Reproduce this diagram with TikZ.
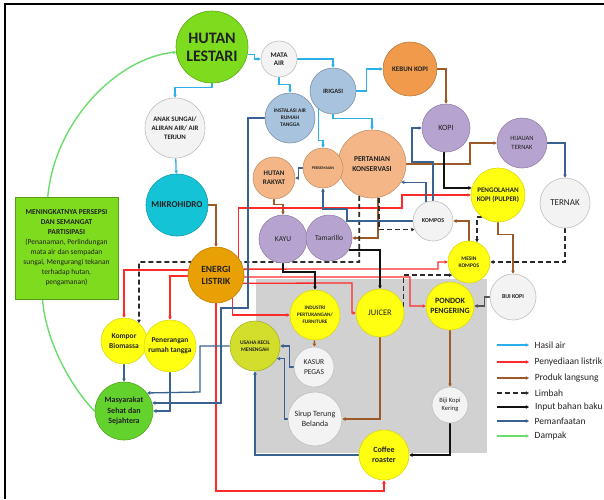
\documentclass[tikz,border=0pt]{standalone}
\usepackage{fontspec}
\setmainfont{Carlito}
\usetikzlibrary{arrows.meta}
\definecolor{cHasil}{HTML}{2DB0EA}
\definecolor{cListrik}{HTML}{FF2B2B}
\definecolor{cProduk}{HTML}{9C5A28}
\definecolor{cLimbah}{HTML}{2A2A2A}
\definecolor{cInput}{HTML}{111111}
\definecolor{cManfaat}{HTML}{3A6290}
\definecolor{cDampak}{HTML}{6CDC6C}
\definecolor{cGrayIn}{HTML}{555555}
\definecolor{fLime}{HTML}{7EDC1E}
\definecolor{fGreen}{HTML}{64D22C}
\definecolor{fWhite}{HTML}{F3F3F3}
\definecolor{fBlue}{HTML}{A8C3DE}
\definecolor{fOrange}{HTML}{F09A4C}
\definecolor{fPeach}{HTML}{F4B687}
\definecolor{fPurple}{HTML}{B6A3D0}
\definecolor{fYellow}{HTML}{FFFF12}
\definecolor{fUkm}{HTML}{D3DE2C}
\definecolor{fEnergi}{HTML}{E9A004}
\definecolor{fCyan}{HTML}{14C3D6}
\definecolor{tDark}{HTML}{222222}
\pgfdeclarelayer{back}
\pgfdeclarelayer{wires}
\pgfsetlayers{back,wires,main}
\tikzset{
  bub/.style={circle, inner sep=0pt, align=center, text=tDark, line width=0.6pt},
  rad/.style={minimum size={2*#1}},
  fb/.style 2 args={font=\bfseries\fontsize{#1}{#2}\selectfont},
  fm/.style 2 args={font=\mdseries\fontsize{#1}{#2}\selectfont},
  cwhite/.style={fill=fWhite, draw=black!25},
  cblue/.style={fill=fBlue, draw=fBlue!75!black},
  corange/.style={fill=fOrange, draw=fOrange!80!black},
  cpeach/.style={fill=fPeach, draw=fPeach!80!black},
  cpurple/.style={fill=fPurple, draw=fPurple!80!black},
  cyellow/.style={fill=fYellow, draw=fYellow!85!black},
  tip/.style={-{Triangle[length=3.2pt,width=3.4pt]}},
  hasil/.style={draw=cHasil, line width=1.3pt, tip},
  listrik/.style={draw=cListrik, line width=1.3pt, tip},
  produk/.style={draw=cProduk, line width=1.5pt, tip},
  limbah/.style={draw=cLimbah, line width=1.8pt, dash pattern=on 5pt off 3pt, tip},
  inputbb/.style={draw=cInput, line width=2pt, tip},
  manfaat/.style={draw=cManfaat, line width=1.3pt, tip},
  dampak/.style={draw=cDampak, line width=1.4pt},
  legtext/.style={anchor=west, inner sep=0pt, text=tDark, font=\fontsize{9.5}{11}\selectfont},
}
\begin{document}
\begin{tikzpicture}[x=1pt,y=-1pt]
\useasboundingbox (0,0) rectangle (604,499);
\begin{pgfonlayer}{back}
\fill[white] (0,0) rectangle (604,499);
\fill[black!18] (256,279) rectangle (487,453);
\draw[line width=2pt] (5,499) -- (5,4) -- (604,4);
\end{pgfonlayer}

% nodes
\node[bub,rad=36,fill=fLime,draw=fLime!75!black,fb={16}{18}] (hutan) at (212,47) {HUTAN\\LESTARI};
\node[bub,rad=18,cwhite,fb={7}{8.5}] (mata) at (279,59) {MATA\\AIR};
\node[bub,rad=23,cblue,fb={6.5}{7.5}] (irigasi) at (333,91) {IRIGASI};
\node[bub,rad=27,corange,fb={7}{8.5}] (kebun) at (410,69) {KEBUN KOPI};
\node[bub,rad=25,cblue,fb={5.5}{7}] (instalasi) at (290,118) {INSTALASI AIR\\RUMAH\\TANGGA};
\node[bub,rad=24,cpurple,fm={8}{9}] (kopi) at (446,128) {KOPI};
\node[bub,rad=25,cpurple,fm={6.5}{8.5}] (hijauan) at (522,143) {HIJAUAN\\TERNAK};
\node[bub,rad=34,cpeach,fb={7.5}{10}] (pertanian) at (372,164) {PERTANIAN\\KONSERVASI};
\node[bub,rad=20,cpeach,fb={4}{5}] (persemaian) at (323,168) {PERSEMAIAN};
\node[bub,rad=21,cpeach,fb={7}{9}] (rakyat) at (274,178) {HUTAN\\RAKYAT};
\node[bub,rad=27,cyellow,fb={7}{9.5}] (pengolahan) at (498,195) {PENGOLAHAN\\KOPI (PULPER)};
\node[bub,rad=25,cwhite,fm={9}{10}] (ternak) at (565,203) {TERNAK};
\node[bub,rad=20,cwhite,fb={6}{7.5}] (kompos) at (433,221) {KOMPOS};
\node[bub,rad=24,cpurple,fm={7.5}{8.5}] (kayu) at (283,239) {KAYU};
\node[bub,rad=23,cpurple,fm={7.5}{8.5}] (tamarillo) at (329,238) {Tamarillo};
\node[bub,rad=31,fill=fCyan,draw=fCyan!80!black,fb={9}{10}] (mikro) at (177,205) {MIKROHIDRO};
\node[bub,rad=30,cwhite,fb={6.8}{9}] (anak) at (175,128) {ANAK SUNGAI/\\ALIRAN AIR/ AIR\\TERJUN};
\node[bub,rad=28,fill=fEnergi,draw=fEnergi!80!black,fb={9.5}{12}] (energi) at (216,275) {ENERGI\\LISTRIK};
\node[bub,rad=21,cyellow,fb={5.5}{7}] (mesin) at (469,262) {MESIN\\KOMPOS};
\node[bub,rad=23,cwhite,fb={6}{7.5}] (bijikopi) at (513,297) {BIJI KOPI};
\node[bub,rad=24,cyellow,fb={8}{10.5}] (pondok) at (450,306) {PONDOK\\PENGERING};
\node[bub,rad=24,cyellow,fm={8.5}{10}] (juicer) at (380,313) {JUICER};
\node[bub,rad=25,cyellow,fb={5.2}{7}] (industri) at (315,315) {INDUSTRI\\PERTUKANGAN/\\FURNITURE};
\node[bub,rad=20,cwhite,fm={7.5}{9.5}] (kasur) at (314,367) {KASUR\\PEGAS};
\node[bub,rad=27,cwhite,fm={8}{10.5}] (sirup) at (315,419) {Sirup Terung\\Belanda};
\node[bub,rad=18,cwhite,fm={6.5}{8.5}] (kering) at (450,405) {Biji Kopi\\Kering};
\node[bub,rad=25,cyellow,fb={8}{10}] (roaster) at (384,455) {Coffee\\roaster};
\node[bub,rad=25,fill=fUkm,draw=fUkm!80!black,fb={5.5}{7.5}] (ukm) at (255,346) {USAHA KECIL\\MENENGAH};
\node[bub,rad=23,cyellow,fb={7.5}{10}] (kompor) at (124,341) {Kompor\\Biomassa};
\node[bub,rad=26,cyellow,fb={7.5}{10}] (penerangan) at (170,346) {Penerangan\\rumah tangga};
\node[bub,rad=29,fill=fGreen,draw=fGreen!80!black,fb={8}{10.5}] (masyarakat) at (124,411) {Masyarakat\\Sehat dan\\Sejahtera};
\node[draw=fLime!70!black, fill=fLime, line width=0.8pt, minimum width=103, minimum height=102, inner sep=1pt, align=center, text=tDark, fm={7.5}{10}] (box) at (66.5,248)
  {\textbf{MENINGKATNYA PERSEPSI}\\\textbf{DAN SEMANGAT}\\\textbf{PARTISIPASI}\\
   (Penanaman, Perlindungan\\mata air dan sempadan\\sungai, Mengurangi tekanan\\terhadap hutan,\\pengamanan)};

\begin{pgfonlayer}{wires}
% Hasil air
\draw[hasil] (hutan.-12) -- ++(7,0) |- (mata);
\draw[hasil] (hutan.south) -- ++(0,4) -| (anak);
\draw[hasil] (anak) -- (mikro);
\draw[hasil] (mata) -| (irigasi);
\draw[hasil] (mata.south) -- ++(0,7) -| (instalasi);
\draw[hasil] (irigasi.east) -- ++(10,0) |- (kebun);
\draw[hasil] (irigasi.south) -- ++(0,4) -| (pertanian);
\draw[hasil] (irigasi.-128) -- ++(0,31) -| (persemaian);
% Produk langsung
\draw[produk] (mikro) -| (energi);
\draw[produk] (kebun) -| (kopi);
\draw[produk] (rakyat.south) -- ++(0,5) -| (kayu);
\draw[produk] (pertanian.east) -- (470,164) |- (hijauan);
\draw[produk] (pertanian.-80) |- (tamarillo);
\draw[produk] (pengolahan.south) -- ++(0,12) -| (bijikopi);
\draw[produk] (mesin.north) |- (kompos);
\draw[produk] (pondok) -- (kering);
\draw[produk] (juicer.south) |- (sirup);
\draw[produk] (industri) -- (kasur);
% Penyediaan listrik
\draw[listrik] (energi.170) -| (kompor);
\draw[listrik] (energi.182) -| (penerangan);
\draw[listrik] (energi.38) |- (402,208) |- (pengolahan);
\draw[listrik] (energi.12) -- (438,269) |- (mesin);
\draw[listrik] (energi.-4) -- (410,277) |- (pondok);
\draw[listrik] (energi.-17) -- (352,283) |- (juicer);
\draw[listrik] (energi.-55) |- (industri);
\draw[listrik] (energi.south) -- (216,491) -| (roaster);
% Limbah
\draw[limbah] (pertanian.-112) |- (139,262) -- (kompor.50);
\draw[limbah] (pertanian.-78) |- (kompos.205);
\draw[limbah] (ternak.south) |- (mesin);
\draw[limbah] (pengolahan.-125) -| (mesin.68);
\draw[limbah] (juicer.15) |- (mesin.-142);
% Input bahan baku
\draw[inputbb] (kopi.-95) |- (pengolahan.165);
\draw[inputbb] (kayu.south) -- ++(0,9) -| (industri);
\draw[inputbb] (tamarillo.-30) -| (juicer);
\draw[inputbb] (kering.south) |- (roaster);
\draw[draw=cGrayIn, line width=1.5pt, tip] (bijikopi.west) -- ++(-5,0) |- (pondok);
% Pemanfaatan
\draw[manfaat] (instalasi.west) -| (248,308) -- (221,308) |- (masyarakat.16);
\draw[manfaat] (ukm.west) -| (200,392) -- (masyarakat.38);
\draw[manfaat] (penerangan.south) |- (masyarakat.east);
\draw[manfaat] (kompor) -- (masyarakat);
\draw[manfaat] (roaster.west) -| (ukm);
\draw[manfaat] (kasur.west) -- ++(-4,0) |- (ukm.east);
\draw[manfaat] (sirup.west) -- ++(-3,0) |- (ukm.-30);
\draw[manfaat] (kompos.north) -- (433,162) -- (412,162) |- (kopi.west);
\draw[manfaat] (kompos.110) |- (pertanian.-32);
\draw[manfaat] (kompos.west) -- (347,221) -- (347,209) -| (persemaian);
\draw[manfaat] (hijauan.east) -| (ternak);
\draw[manfaat] (persemaian.west) -- ++(-4,0) |- (rakyat.east);
% Dampak
\draw[dampak, tip] (box.110) .. controls (55,120) and (118,58) .. (hutan.188);
\draw[dampak] (masyarakat.west) .. controls (75,392) and (46,345) .. (box.245);
\end{pgfonlayer}

% legend
\coordinate (l1) at (497,345); \coordinate (l2) at (497,362); \coordinate (l3) at (497,378);
\coordinate (l4) at (497,393); \coordinate (l5) at (497,407); \coordinate (l6) at (497,421);
\coordinate (l7) at (497,436);
\draw[hasil] (l1) -- ++(32,0) node[legtext, xshift=5pt] {Hasil air};
\draw[listrik] (l2) -- ++(32,0) node[legtext, xshift=5pt] {Penyediaan listrik};
\draw[produk] (l3) -- ++(32,0) node[legtext, xshift=5pt] {Produk langsung};
\draw[limbah] (l4) -- ++(32,0) node[legtext, xshift=5pt] {Limbah};
\draw[inputbb] (l5) -- ++(32,0) node[legtext, xshift=5pt] {Input bahan baku};
\draw[manfaat] (l6) -- ++(32,0) node[legtext, xshift=5pt] {Pemanfaatan};
\draw[dampak, tip] (l7) -- ++(32,0) node[legtext, xshift=5pt] {Dampak};
\end{tikzpicture}
\end{document}
